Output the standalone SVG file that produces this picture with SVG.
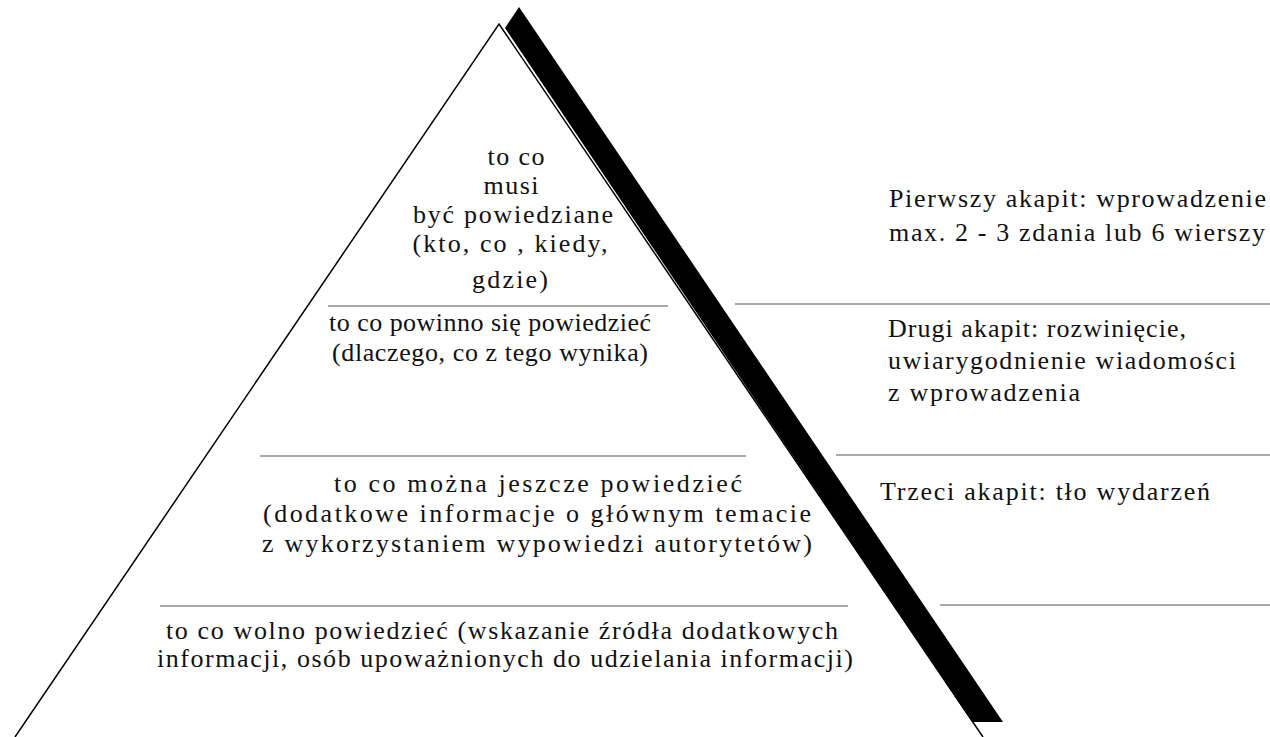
<svg xmlns="http://www.w3.org/2000/svg" width="1270" height="737" viewBox="0 0 1270 737">
<style>
text{font-family:"Liberation Serif","Times New Roman",serif;font-size:26px;fill:#111}
.c{text-anchor:middle}
.sep{stroke:#555;stroke-width:1.2}
</style>
<rect width="1270" height="737" fill="#fff"/>
<g id="pyramid">
<path d="M15,737 L499,24 L983,737" fill="none" stroke="#000" stroke-width="1.5"/>
<polygon points="519,7 1003,722 972,722 505,28" fill="#000"/>
</g>
<g id="connectors">
<line class="sep" x1="328" y1="306" x2="668" y2="306"/>
<line class="sep" x1="735" y1="304" x2="1270" y2="304"/>
<line class="sep" x1="260" y1="456" x2="746" y2="456"/>
<line class="sep" x1="836" y1="455" x2="1270" y2="455"/>
<line class="sep" x1="160" y1="606" x2="848" y2="606"/>
<line class="sep" x1="940" y1="605" x2="1270" y2="605"/>
</g>
<g id="level1">
<text class="c" x="516" y="165" textLength="57" lengthAdjust="spacing">to co</text>
<text class="c" x="511" y="194" textLength="55" lengthAdjust="spacing">musi</text>
<text class="c" x="513" y="223" textLength="200" lengthAdjust="spacing">być powiedziane</text>
<text class="c" x="510" y="252" textLength="195" lengthAdjust="spacing">(kto, co , kiedy,</text>
<text class="c" x="510" y="288" textLength="76" lengthAdjust="spacing">gdzie)</text>
</g>
<g id="level2">
<text class="c" x="490" y="331" textLength="322" lengthAdjust="spacing">to co powinno się powiedzieć</text>
<text class="c" x="490" y="361" textLength="316" lengthAdjust="spacing">(dlaczego, co z tego wynika)</text>
</g>
<g id="level3">
<text class="c" x="538" y="492" textLength="408" lengthAdjust="spacing">to co można jeszcze powiedzieć</text>
<text class="c" x="537" y="522" textLength="548" lengthAdjust="spacing">(dodatkowe informacje o głównym temacie</text>
<text class="c" x="537" y="552" textLength="550" lengthAdjust="spacing">z wykorzystaniem wypowiedzi autorytetów)</text>
</g>
<g id="level4">
<text class="c" x="502" y="639" textLength="672" lengthAdjust="spacing">to co wolno powiedzieć (wskazanie źródła dodatkowych</text>
<text class="c" x="505" y="667" textLength="696" lengthAdjust="spacing">informacji, osób upoważnionych do udzielania informacji)</text>
</g>
<g id="label1">
<text x="889" y="207" textLength="377" lengthAdjust="spacing">Pierwszy akapit: wprowadzenie</text>
<text x="889" y="241" textLength="376" lengthAdjust="spacing">max. 2 - 3 zdania lub 6 wierszy</text>
</g>
<g id="label2">
<text x="888" y="337" textLength="298" lengthAdjust="spacing">Drugi akapit: rozwinięcie,</text>
<text x="888" y="369" textLength="348" lengthAdjust="spacing">uwiarygodnienie wiadomości</text>
<text x="888" y="401" textLength="192" lengthAdjust="spacing">z wprowadzenia</text>
</g>
<g id="label3">
<text x="880" y="500" textLength="330" lengthAdjust="spacing">Trzeci akapit: tło wydarzeń</text>
</g>
</svg>
